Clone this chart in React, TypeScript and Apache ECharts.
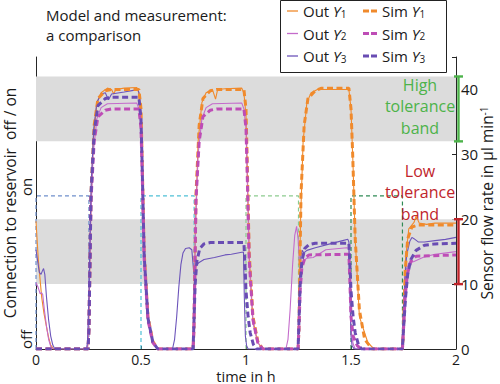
import React, { useEffect, useRef } from 'react';
import * as echarts from 'echarts';

const FONT = 'Open Sans';
const TEXT = '#1a1a1a';

const xTicks = [0, 0.5, 1, 1.5, 2];
const reservoirStates = ['off', 'on'];
const highBand = [32, 42];
const lowBand = [10, 20];

// connection to reservoir (left axis: 0 = off, 1 = on)
const valve1 = [[0, 0], [0, 1], [0.252, 1], [0.252, 0]];
const valve2 = [[0.5, 0], [0.5, 1], [0.753, 1], [0.753, 0]];
const valve3 = [[1.0, 0], [1.0, 1], [1.25, 1], [1.25, 0]];
const valve4 = [[1.5, 0], [1.5, 1], [1.745, 1], [1.745, 0]];

// measured flow (right axis, µl/min)
const outY1 = [
  [0, 19.7], [0.005, 17], [0.011, 13.8], [0.02, 10.5], [0.027, 8], [0.038, 5.5], [0.05, 3.4], [0.06, 1.8], [0.07, 0.6], [0.085, 0],
  [0.245, 0], [0.25, 2.5], [0.26, 20], [0.272, 32], [0.29, 38], [0.31, 39.5], [0.34, 40.2], [0.36, 40], [0.37, 39.3], [0.38, 40], [0.42, 40.2], [0.48, 40.3], [0.49, 39.5], [0.5, 36], [0.506, 28], [0.516, 14], [0.533, 4.5], [0.556, 1], [0.58, 0],
  [0.745, 0], [0.75, 2.5], [0.76, 20], [0.772, 32], [0.79, 38], [0.81, 39.5], [0.84, 40], [0.855, 38.5], [0.865, 40], [0.9, 40.1], [0.98, 40.2], [0.99, 39.5], [1.0, 36], [1.006, 28], [1.016, 14], [1.033, 4.5], [1.056, 1], [1.08, 0],
  [1.245, 0], [1.25, 2], [1.26, 20], [1.272, 32], [1.29, 38], [1.31, 39.5], [1.34, 40], [1.49, 40], [1.5, 37], [1.51, 28], [1.52, 17], [1.54, 5], [1.58, 1], [1.61, 0],
  [1.745, 0], [1.75, 2], [1.76, 14], [1.775, 18.5], [1.8, 19.5], [1.81, 20.5], [1.825, 19.4], [1.86, 19.2], [1.9, 19.4], [2, 19.4],
];
const outY2 = [
  [0, 10.2], [0.01, 9.5], [0.02, 8.5], [0.026, 8.7], [0.032, 8.4], [0.04, 6], [0.05, 3.5], [0.06, 1.5], [0.07, 0.4], [0.08, 0],
  [0.245, 0], [0.25, 2.5], [0.26, 19], [0.272, 30], [0.29, 35.5], [0.31, 37.2], [0.34, 37.8], [0.48, 37.9], [0.49, 37], [0.5, 34], [0.506, 26], [0.516, 13], [0.533, 4], [0.556, 1], [0.58, 0],
  [0.745, 0], [0.75, 2.5], [0.76, 19], [0.772, 30], [0.79, 35.5], [0.81, 37.2], [0.84, 37.8], [0.98, 37.9], [0.99, 37], [1.0, 34], [1.006, 26], [1.016, 13], [1.033, 4], [1.056, 1], [1.08, 0],
  [1.19, 0], [1.2, 1.5], [1.21, 6], [1.222, 13], [1.232, 17.5], [1.241, 18.9], [1.248, 17], [1.255, 13], [1.263, 13.3], [1.29, 14], [1.32, 14.1], [1.38, 15.3], [1.48, 15.6], [1.49, 15.5], [1.495, 9], [1.5, 3], [1.51, 0.8], [1.52, 0],
  [1.74, 0], [1.745, 1], [1.752, 8], [1.76, 12], [1.775, 13.2], [1.8, 13.5], [1.85, 14.2], [1.9, 14.6], [2, 15],
];
const outY3 = [
  [0, 15.3], [0.008, 13.5], [0.016, 11.8], [0.024, 11.5], [0.03, 12], [0.036, 12.4], [0.042, 11.5], [0.05, 8], [0.06, 4.5], [0.07, 2], [0.08, 0.6], [0.09, 0],
  [0.24, 0], [0.245, 1], [0.252, 8], [0.262, 25], [0.275, 34], [0.29, 38], [0.31, 39.3], [0.33, 39.5], [0.345, 38.4], [0.36, 39.3], [0.42, 39.6], [0.47, 39.9], [0.485, 40], [0.49, 39.5], [0.5, 35.5], [0.506, 27], [0.516, 13.5], [0.533, 4.5], [0.556, 1], [0.58, 0],
  [0.65, 0], [0.66, 1.5], [0.67, 5], [0.68, 9.5], [0.69, 13], [0.7, 14.8], [0.712, 15.5], [0.73, 15.6], [0.742, 15.3], [0.748, 13], [0.752, 11.5], [0.758, 12.6], [0.775, 13.3], [0.8, 13.8], [0.85, 14.1], [0.9, 14.5], [0.93, 14.6], [0.98, 14.9], [0.988, 14.9], [0.992, 8], [0.997, 2], [1.003, 0.5], [1.01, 0],
  [1.245, 0], [1.25, 3], [1.255, 10], [1.262, 14.5], [1.268, 15.2], [1.275, 14.8], [1.29, 15.2], [1.33, 15.6], [1.4, 16.2], [1.46, 16.7], [1.485, 16.9], [1.49, 16.5], [1.495, 8], [1.5, 2], [1.505, 0.5], [1.515, 0],
  [1.74, 0], [1.745, 2], [1.755, 10], [1.765, 14.5], [1.78, 16.6], [1.79, 17.2], [1.8, 17], [1.82, 16.5], [1.85, 16.5], [1.9, 16.7], [1.95, 16.9], [2, 17.2],
];

// simulated flow (right axis, µl/min)
const simY1 = [
  [0, 0], [0.248, 0], [0.252, 3], [0.262, 24], [0.277, 34.5], [0.295, 38.6], [0.33, 39.8], [0.36, 40], [0.49, 40], [0.5, 37], [0.505, 30], [0.515, 15], [0.533, 5], [0.556, 1.2], [0.58, 0],
  [0.748, 0], [0.752, 3], [0.762, 24], [0.777, 34.5], [0.795, 38.6], [0.83, 39.8], [0.86, 40], [0.99, 40], [1.0, 37], [1.005, 30], [1.015, 15], [1.033, 5], [1.056, 1.2], [1.08, 0],
  [1.248, 0], [1.252, 3], [1.262, 24], [1.277, 34.5], [1.295, 38.6], [1.33, 39.8], [1.36, 40.2], [1.49, 40.2], [1.5, 37], [1.508, 30], [1.52, 17], [1.54, 6], [1.565, 1.5], [1.6, 0],
  [1.745, 0], [1.75, 3], [1.758, 12], [1.77, 17], [1.79, 18.8], [1.82, 19.1], [2, 19.1],
];
const simY2 = [
  [0, 0], [0.248, 0], [0.252, 3], [0.262, 23], [0.277, 32], [0.295, 35.8], [0.33, 36.8], [0.36, 37], [0.49, 37], [0.5, 34], [0.505, 28], [0.515, 14], [0.533, 4.5], [0.556, 1], [0.58, 0],
  [0.748, 0], [0.752, 3], [0.762, 23], [0.777, 32], [0.795, 35.8], [0.83, 36.8], [0.86, 37], [0.99, 37], [1.0, 34], [1.005, 28], [1.015, 14], [1.033, 4.5], [1.056, 1], [1.08, 0],
  [1.248, 0], [1.252, 3], [1.258, 9], [1.266, 12.5], [1.28, 14], [1.3, 14.5], [1.49, 14.6], [1.495, 10], [1.5, 5], [1.51, 2], [1.53, 0.5], [1.55, 0],
  [1.745, 0], [1.75, 3], [1.758, 8], [1.768, 11.5], [1.785, 13.5], [1.81, 14.3], [2, 14.5],
];
const simY3 = [
  [0, 0], [0.248, 0], [0.252, 3], [0.262, 24], [0.277, 33.5], [0.295, 37.5], [0.33, 38.6], [0.36, 38.8], [0.49, 38.8], [0.5, 35.5], [0.505, 29], [0.515, 14.5], [0.533, 4.8], [0.556, 1.1], [0.58, 0],
  [0.748, 0], [0.752, 4], [0.758, 10], [0.766, 13.5], [0.78, 15.5], [0.8, 16.2], [0.83, 16.4], [0.99, 16.4], [0.995, 13], [1.0, 9], [1.01, 5], [1.02, 2.5], [1.035, 0.7], [1.05, 0],
  [1.248, 0], [1.252, 4], [1.258, 10], [1.266, 13.5], [1.28, 15.5], [1.3, 16.1], [1.33, 16.3], [1.49, 16.3], [1.495, 13], [1.5, 9], [1.51, 5], [1.52, 2.5], [1.535, 0.7], [1.55, 0],
  [1.745, 0], [1.75, 3], [1.76, 8], [1.77, 11.5], [1.785, 13.8], [1.81, 15.2], [1.85, 16], [1.9, 16.2], [2, 16.3],
];

const C_ORANGE = '#F08A2C';
const C_OUT2 = '#C46BCB';
const C_SIM2 = '#BE4DB6';
const C_OUT3 = '#6C54BA';
const C_SIM3 = '#694CB3';
const bandColors = ['#4DB34A', '#C0252B'];

export default function App() {
  const ref = useRef<HTMLDivElement>(null);
  useEffect(() => {
    if (!ref.current) return;
    const chart = echarts.init(ref.current, undefined, { renderer: 'svg' });
    const outLine = (name: string, data: number[][], color: string) => ({
      name, type: 'line', yAxisIndex: 1, data, symbol: 'none', showSymbol: false, silent: true,
      lineStyle: { color, width: 1.1 }, itemStyle: { color }, z: 3,
    });
    const simLine = (name: string, data: number[][], color: string) => ({
      name, type: 'line', yAxisIndex: 1, data, symbol: 'none', showSymbol: false, silent: true,
      lineStyle: { color, width: 3, type: [6, 3.5] }, itemStyle: { color }, z: 4,
    });
    const valveLine = (data: number[][], color: string) => ({
      type: 'line', yAxisIndex: 0, data, symbol: 'none', showSymbol: false, silent: true,
      lineStyle: { color, width: 1.2, type: [4, 3] }, z: 2,
    });
    const richLegend = {
      i: { fontStyle: 'italic', fontSize: 15, fontFamily: FONT, color: TEXT },
      s: { fontSize: 10, fontFamily: FONT, color: TEXT, verticalAlign: 'bottom' },
    };
    const legendFmt = (name: string) => {
      const parts = name.split(' ');
      const idx = parts[1].slice(1);
      return parts[0] + ' {i|Y}{s|' + idx + '}';
    };
    const legendText = { fontFamily: FONT, fontSize: 15, color: TEXT, rich: richLegend };
    chart.setOption({
      animation: false,
      backgroundColor: '#fff',
      graphic: [
        {
          type: 'text', z: 3,
          style: { text: 'Model and measurement:', x: 46, y: 14.6, verticalAlign: 'middle', fill: TEXT, fontFamily: FONT, fontSize: 15, lineHeight: 16 },
        },
        {
          type: 'text', z: 3,
          style: { text: 'a comparison', x: 46, y: 35.2, verticalAlign: 'middle', fill: TEXT, fontFamily: FONT, fontSize: 15, lineHeight: 16 },
        },
        { type: 'rect', z: 3, shape: { x: 280.5, y: 0.5, width: 166, height: 72 }, style: { fill: '#fff', stroke: '#222', lineWidth: 1 } },
        {
          type: 'text', z: 3,
          style: { text: 'High\ntolerance\nband', x: 420, y: 106, align: 'center', verticalAlign: 'middle', fill: bandColors[0], fontFamily: FONT, fontSize: 16, lineHeight: 21.5 },
        },
        {
          type: 'text', z: 3,
          style: { text: 'Low\ntolerance\nband', x: 420, y: 192, align: 'center', verticalAlign: 'middle', fill: bandColors[1], fontFamily: FONT, fontSize: 16, lineHeight: 21.5 },
        },
      ],
      legend: [
        {
          data: ['Out Y1', 'Out Y2', 'Out Y3'], orient: 'vertical', left: 287, top: 3.5, padding: 0,
          icon: 'rect', itemWidth: 11, itemHeight: 1.3, itemGap: 7.5, selectedMode: false,
          formatter: legendFmt, textStyle: legendText,
        },
        {
          data: ['Sim Y1', 'Sim Y2', 'Sim Y3'], orient: 'vertical', left: 363, top: 3.5, padding: 0,
          icon: 'path://M0,0h6v3h-6z M8,0h6v3h-6z', itemWidth: 14, itemHeight: 3.5, itemGap: 7.5, selectedMode: false,
          formatter: legendFmt, textStyle: legendText,
        },
      ],
      grid: { left: 36, right: 44, top: 57, bottom: 35, outerBoundsMode: 'none', containLabel: false },
      xAxis: {
        type: 'value', min: xTicks[0], max: xTicks[xTicks.length - 1], interval: 0.5,
        axisLine: { lineStyle: { color: '#262626', width: 1 } },
        axisTick: { show: true, inside: true, length: 3, lineStyle: { color: '#262626' } },
        axisLabel: { fontFamily: FONT, fontSize: 14, lineHeight: 14, color: TEXT, margin: 3.5, formatter: (v: number) => String(v) },
        splitLine: { show: false },
        name: 'time in h', nameLocation: 'middle', nameGap: 20.5, nameMoveOverlap: false,
        nameTextStyle: { fontFamily: FONT, fontSize: 14.5, lineHeight: 14, color: TEXT },
      },
      yAxis: [
        {
          type: 'value', position: 'left', min: 0, max: 1.908, interval: 1,
          axisLine: { show: true, lineStyle: { color: '#262626', width: 1 } },
          axisTick: { show: false },
          splitLine: { show: false },
          axisLabel: {
            rotate: 90, align: 'left', margin: 3, fontFamily: FONT, fontSize: 15, color: TEXT,
            formatter: (v: number) => (v === 0 ? reservoirStates[0] : v === 1 ? reservoirStates[1] : ''),
          },
          name: 'Connection to reservoir  off / on', nameLocation: 'middle', nameGap: 18, nameRotate: 90, nameMoveOverlap: false,
          nameTextStyle: { fontFamily: FONT, fontSize: 15.5, color: TEXT },
        },
        {
          type: 'value', position: 'right', min: 0, max: 45, interval: 10,
          axisLine: { show: true, lineStyle: { color: '#262626', width: 1 } },
          axisTick: { show: true, inside: true, length: 4, lineStyle: { color: '#262626' } },
          splitLine: { show: false },
          axisLabel: { fontFamily: FONT, fontSize: 15, color: TEXT, margin: 5, formatter: (v: number) => (v > 40 ? '' : String(v)) },
          name: 'Sensor flow rate in µl min{sup|-1}', nameLocation: 'middle', nameGap: 23, nameRotate: 90, nameMoveOverlap: false,
          nameTextStyle: {
            fontFamily: FONT, fontSize: 15.5, color: TEXT,
            rich: { sup: { fontFamily: FONT, fontSize: 10, color: TEXT, verticalAlign: 'top' } },
          },
        },
      ],
      series: [
        {
          type: 'line', yAxisIndex: 1, data: [], silent: true, z: 1,
          markArea: {
            silent: true, itemStyle: { color: '#DCDCDC' },
            data: [[{ yAxis: highBand[0] }, { yAxis: highBand[1] }], [{ yAxis: lowBand[0] }, { yAxis: lowBand[1] }]],
          },
        },
        valveLine(valve1, '#6F8FCB'),
        valveLine(valve2, '#4EC0D6'),
        valveLine(valve3, '#8CCB8E'),
        valveLine(valve4, '#2F8A55'),
        outLine('Out Y1', outY1, C_ORANGE),
        outLine('Out Y2', outY2, C_OUT2),
        outLine('Out Y3', outY3, C_OUT3),
        simLine('Sim Y1', simY1, C_ORANGE),
        simLine('Sim Y2', simY2, C_SIM2),
        simLine('Sim Y3', simY3, C_SIM3),
        {
          type: 'custom', yAxisIndex: 1, clip: false, silent: true, z: 6,
          data: [[2, highBand[0], highBand[1]], [2, lowBand[0], lowBand[1]]],
          encode: { x: 0, y: [1, 2] },
          renderItem: (params: any, api: any) => {
            const lo = api.coord([api.value(0), api.value(1)]);
            const hi = api.coord([api.value(0), api.value(2)]);
            const x = lo[0] + 2.5;
            const st = { stroke: bandColors[params.dataIndex], lineWidth: 2.4 };
            return {
              type: 'group',
              children: [
                { type: 'line', shape: { x1: x, y1: lo[1], x2: x, y2: hi[1] }, style: st },
                { type: 'line', shape: { x1: x - 4.5, y1: lo[1], x2: x + 4.5, y2: lo[1] }, style: st },
                { type: 'line', shape: { x1: x - 4.5, y1: hi[1], x2: x + 4.5, y2: hi[1] }, style: st },
              ],
            };
          },
        },
      ],
    });
    return () => chart.dispose();
  }, []);
  return <div ref={ref} style={{ position: 'absolute', left: 0, top: 0, width: 500, height: 384 }} />;
}
